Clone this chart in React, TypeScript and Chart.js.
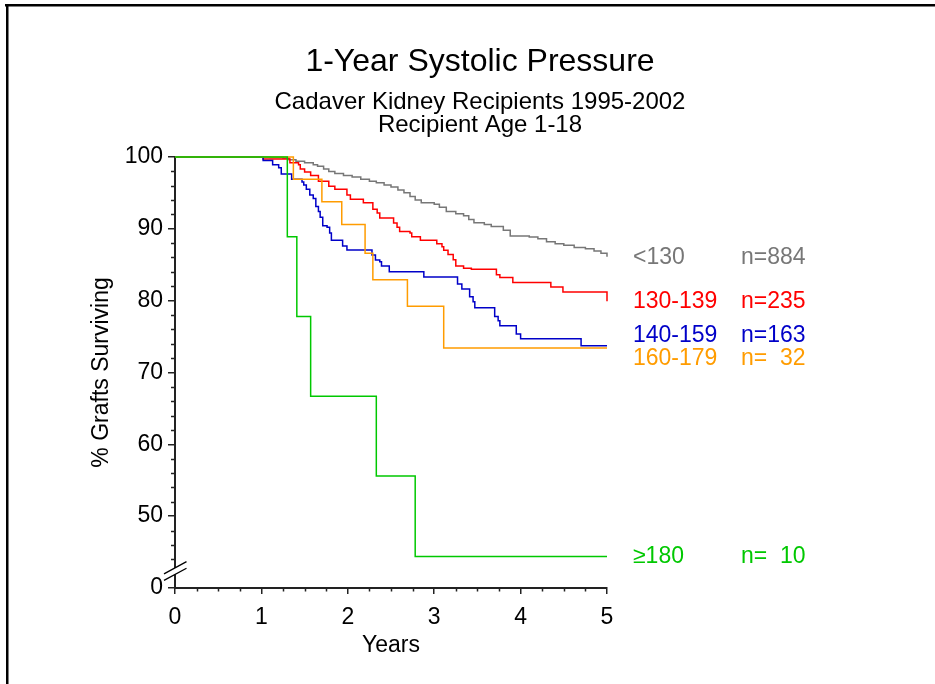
import React, { useEffect, useRef } from 'react';
import { Chart, registerables } from 'chart.js';

Chart.register(...registerables);

const FONT = '"Liberation Sans", Arial, Helvetica, sans-serif';

// ---- text ----
const titleText = '1-Year Systolic Pressure';
const subtitleLines = ['Cadaver Kidney Recipients 1995-2002', 'Recipient Age 1-18'];
const xAxisTitle = 'Years';
const yAxisTitle = '% Grafts Surviving';

// ---- ticks ----
const xTickValues = [0, 1, 2, 3, 4, 5];
const yTickValues = [40, 50, 60, 70, 80, 90, 100];
const yTickLabels = ['0', '50', '60', '70', '80', '90', '100'];

// ---- groups ----
const groupLabels = ['<130', '130-139', '140-159', '160-179', '\u2265180'];
const groupCounts = ['n=884', 'n=235', 'n=163', 'n=  32', 'n=  10'];

// ---- series (years, % surviving) ----
const grayYears = [0, 0.98, 1.1, 1.25, 1.32, 1.4, 1.5, 1.6, 1.65, 1.72, 1.78, 1.85, 1.95, 2.05, 2.15, 2.25, 2.33, 2.42, 2.5, 2.58, 2.65, 2.72, 2.78, 2.85, 3.0, 3.06, 3.14, 3.25, 3.34, 3.4, 3.46, 3.58, 3.66, 3.8, 3.88, 4.1, 4.2, 4.3, 4.4, 4.5, 4.62, 4.75, 4.85, 4.93, 5.0];
const graySurv = [100, 100, 99.9, 99.8, 99.6, 99.4, 99.2, 98.9, 98.7, 98.3, 97.95, 97.7, 97.4, 97.2, 96.9, 96.6, 96.4, 96.1, 95.8, 95.4, 95.0, 94.5, 94.0, 93.6, 93.4, 93.0, 92.4, 92.1, 91.8, 91.3, 90.85, 90.6, 90.3, 89.8, 89.0, 88.85, 88.6, 88.2, 87.9, 87.7, 87.4, 87.2, 86.9, 86.6, 86.1];

const redYears = [0, 1.02, 1.33, 1.43, 1.45, 1.5, 1.57, 1.66, 1.78, 1.85, 1.99, 2.03, 2.18, 2.29, 2.34, 2.37, 2.53, 2.57, 2.6, 2.72, 2.74, 2.84, 3.03, 3.09, 3.11, 3.16, 3.22, 3.25, 3.34, 3.43, 3.72, 3.76, 3.91, 4.35, 4.49, 5.0];
const redSurv = [100, 99.7, 99.2, 98.9, 98.3, 97.9, 97.4, 96.6, 95.9, 95.5, 94.7, 94.1, 93.6, 92.7, 92.2, 91.5, 90.8, 90.2, 89.6, 89.4, 88.9, 88.4, 87.9, 87.5, 87.0, 86.4, 85.7, 84.8, 84.5, 84.35, 83.6, 83.2, 82.5, 81.9, 81.2, 79.9];

const blueYears = [0, 1.02, 1.13, 1.2, 1.23, 1.35, 1.47, 1.49, 1.52, 1.56, 1.6, 1.63, 1.66, 1.68, 1.71, 1.76, 1.79, 1.81, 1.94, 1.99, 2.28, 2.32, 2.37, 2.39, 2.48, 2.88, 3.27, 3.32, 3.41, 3.45, 3.47, 3.7, 3.74, 3.76, 3.95, 4.0, 4.7, 5.0];
const blueSurv = [100, 99.5, 98.9, 98.5, 97.6, 96.9, 96.5, 96.1, 95.5, 94.7, 94.2, 93.1, 92.4, 91.6, 90.4, 90.2, 89.4, 88.4, 87.6, 87.05, 86.35, 85.65, 85.4, 84.8, 84.0, 83.3, 82.3, 81.6, 80.55, 79.85, 79.0, 77.8, 77.2, 76.5, 75.35, 74.7, 73.7, 73.7];

const orangeYears = [0, 1.37, 1.7, 1.93, 2.2, 2.29, 2.69, 3.11, 5.0];
const orangeSurv = [100, 96.9, 93.75, 90.6, 86.6, 82.9, 79.2, 73.4, 73.4];

const greenYears = [0, 1.3, 1.41, 1.57, 2.33, 2.78, 5.0];
const greenSurv = [100, 88.9, 77.8, 66.7, 55.6, 44.4, 44.4];

// ---- styles ----
const AXIS = '#222222';
const COLORS = ['#777777', '#ff0000', '#0000c8', '#ff9c00', '#00c800'];
const LABEL_NUDGE = [1, 0, -10, 10.5, 0.5];

export default function App() {
  const ref = useRef<HTMLCanvasElement>(null);

  useEffect(() => {
    const prevMargin = document.body.style.margin;
    document.body.style.margin = '0';
    const canvas = ref.current!;

    const groups = [
      { years: grayYears, surv: graySurv },
      { years: redYears, surv: redSurv },
      { years: blueYears, surv: blueSurv },
      { years: orangeYears, surv: orangeSurv },
      { years: greenYears, surv: greenSurv },
    ];

    // first dataset is drawn on top -> reverse so green is on top
    const datasets = groups
      .map((g, i) => ({
        label: groupLabels[i],
        data: g.years.map((x, k) => ({ x, y: g.surv[k] })),
        borderColor: COLORS[i],
        backgroundColor: COLORS[i],
        borderWidth: 1.5,
        pointRadius: 0,
        pointHoverRadius: 0,
        stepped: 'before' as const,
        fill: false,
        clip: false as const,
      }))
      .reverse();

    const framePlugin = {
      id: 'frame',
      beforeDraw(chart: any) {
        const { ctx, width, height } = chart;
        ctx.save();
        ctx.fillStyle = '#000';
        ctx.fillRect(5, 4, width - 5, 2.5);
        ctx.fillRect(6, 4, 2.5, height - 4);
        ctx.restore();
      },
    };

    const decorPlugin = {
      id: 'decor',
      afterDraw(chart: any) {
        const { ctx, chartArea } = chart;
        const xs = chart.scales.x;
        const ys = chart.scales.y;
        ctx.save();
        // minor ticks
        ctx.strokeStyle = AXIS;
        ctx.lineWidth = 1.5;
        ctx.beginPath();
        for (let v = 0.25; v < 5; v += 0.25) {
          if (Math.abs(v - Math.round(v)) < 1e-6) continue;
          const px = Math.round(xs.getPixelForValue(v)) + 0.5;
          ctx.moveTo(px, chartArea.bottom);
          ctx.lineTo(px, chartArea.bottom + 3.5);
        }
        for (let v = 44; v < 100; v += 2) {
          if (v % 10 === 0) continue;
          const py = Math.round(ys.getPixelForValue(v)) + 0.5;
          ctx.moveTo(chartArea.left - 4, py);
          ctx.lineTo(chartArea.left, py);
        }
        ctx.stroke();

        // axis break
        const bx = chartArea.left;
        const by = ys.getPixelForValue(42.35);
        const d = 3.3;
        ctx.fillStyle = '#fff';
        ctx.beginPath();
        ctx.moveTo(bx - 11, by - d + 6);
        ctx.lineTo(bx + 11.5, by - d - 6.2);
        ctx.lineTo(bx + 11.5, by + d - 6.2);
        ctx.lineTo(bx - 11, by + d + 6);
        ctx.closePath();
        ctx.fill();
        ctx.strokeStyle = '#000';
        ctx.lineWidth = 1.3;
        ctx.beginPath();
        for (const off of [-d, d]) {
          ctx.moveTo(bx - 11, by + off + 6);
          ctx.lineTo(bx + 11.5, by + off - 6.2);
        }
        ctx.stroke();

        // group labels at the end of each curve
        ctx.font = `23px ${FONT}`;
        ctx.textBaseline = 'middle';
        ctx.textAlign = 'left';
        groups.forEach((g, i) => {
          const yy = ys.getPixelForValue(g.surv[g.surv.length - 1]) + LABEL_NUDGE[i];
          ctx.fillStyle = COLORS[i];
          ctx.fillText(groupLabels[i], chartArea.right + 26, yy);
          ctx.fillText(groupCounts[i], chartArea.right + 134, yy);
        });
        ctx.restore();
      },
    };

    const chart = new Chart(canvas, {
      type: 'line',
      data: { datasets },
      options: {
        responsive: false,
        animation: false,
        devicePixelRatio: 1,
        events: [],
        layout: { padding: { left: 25, right: 0, top: 43, bottom: 0 } },
        plugins: {
          legend: { display: false },
          tooltip: { enabled: false },
          title: {
            display: true,
            text: titleText,
            color: '#000',
            font: { family: FONT, size: 32, weight: 'normal', lineHeight: 1.2 },
            padding: { top: 0, bottom: 0 },
          },
          subtitle: {
            display: true,
            text: subtitleLines,
            color: '#000',
            font: { family: FONT, size: 24, weight: 'normal', lineHeight: 0.96 },
            padding: { top: 9, bottom: 20.4 },
          },
        },
        scales: {
          x: {
            type: 'linear',
            position: 'bottom',
            min: 0,
            max: 5,
            afterBuildTicks: (s: any) => {
              s.ticks = xTickValues.map((v) => ({ value: v }));
            },
            ticks: {
              color: '#000',
              font: { family: FONT, size: 23 },
              padding: 10,
              maxRotation: 0,
              autoSkip: false,
            },
            grid: {
              display: true,
              drawOnChartArea: false,
              drawTicks: true,
              tickLength: 6,
              color: AXIS,
              lineWidth: 1.5,
            },
            border: { display: true, color: AXIS, width: 2 },
            title: {
              display: true,
              text: xAxisTitle,
              color: '#000',
              font: { family: FONT, size: 23 },
              padding: { top: 0, bottom: 25 },
            },
            afterFit: (s: any) => {
              s.height = 96;
            },
          },
          y: {
            type: 'linear',
            position: 'left',
            min: 40,
            max: 100,
            afterBuildTicks: (s: any) => {
              s.ticks = yTickValues.map((v) => ({ value: v }));
            },
            ticks: {
              color: '#000',
              font: { family: FONT, size: 23 },
              padding: 5,
              autoSkip: false,
              callback: (v: any) => {
                const i = yTickValues.indexOf(Number(v));
                return i >= 0 ? yTickLabels[i] : '';
              },
            },
            grid: {
              display: true,
              drawOnChartArea: false,
              drawTicks: true,
              tickLength: 7,
              color: AXIS,
              lineWidth: 1.5,
            },
            border: { display: true, color: AXIS, width: 2 },
            title: {
              display: true,
              text: yAxisTitle,
              color: '#000',
              font: { family: FONT, size: 23 },
              padding: { top: 63, bottom: 0 },
            },
            afterFit: (s: any) => {
              s.width = 150;
            },
          },
          yR: {
            type: 'linear',
            position: 'right',
            display: true,
            min: 0,
            max: 1,
            ticks: { display: false },
            grid: { display: false, drawTicks: false },
            border: { display: false },
            afterFit: (s: any) => {
              s.width = 328;
            },
          },
        },
      } as any,
      plugins: [framePlugin, decorPlugin],
    });

    return () => {
      chart.destroy();
      document.body.style.margin = prevMargin;
    };
  }, []);

  return (
    <canvas
      ref={ref}
      width={935}
      height={684}
      style={{ display: 'block', width: 935, height: 684 }}
    />
  );
}
